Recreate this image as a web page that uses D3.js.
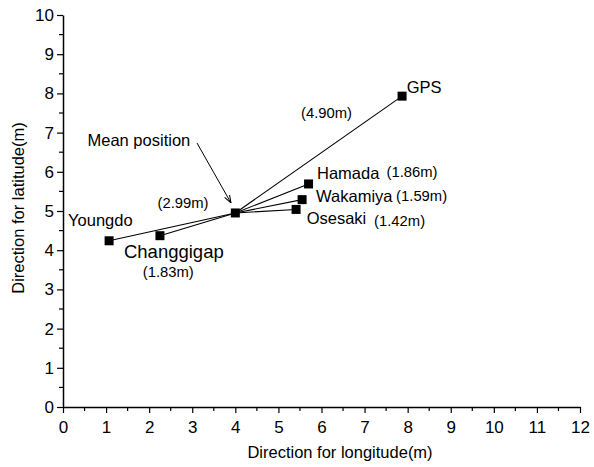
<!DOCTYPE html>
<html><head><meta charset="utf-8">
<script src="https://d3js.org/d3.v7.min.js"></script>
<style>body{margin:0;background:#fff}text{font-family:"Liberation Sans",Arial,sans-serif;fill:#000}</style>
</head><body><svg id="c" width="594" height="467"></svg>
<script>
const stations = ["Youngdo","Changgigap","Hamada","Wakamiya","Osesaki","GPS"];
const lonValues = [1.07, 2.25, 5.70, 5.55, 5.41, 7.87];
const latValues = [4.24, 4.37, 5.69, 5.29, 5.04, 7.93];
const distLabels = ["(2.99m)","(1.83m)","(1.86m)","(1.59m)","(1.42m)","(4.90m)"];
const meanPos = [4.0, 4.95];
const xTicks = [0,1,2,3,4,5,6,7,8,9,10,11,12];
const yTicks = [0,1,2,3,4,5,6,7,8,9,10];

const svg = d3.select("#c");
const x = d3.scaleLinear().domain([0,12]).range([63,580]);
const y = d3.scaleLinear().domain([0,10]).range([407,15]);

// axes
const xa = svg.append("g").attr("transform","translate(0,407)")
  .call(d3.axisBottom(x).tickValues(xTicks).tickSize(6).tickSizeOuter(0).tickPadding(8));
const ya = svg.append("g").attr("transform","translate(63,0)")
  .call(d3.axisLeft(y).tickValues(yTicks).tickSize(6).tickSizeOuter(0).tickPadding(3));
[xa,ya].forEach(a=>{a.selectAll("text").style("font-size","17px").style("font-family","Liberation Sans, Arial");a.select(".domain").attr("stroke-width",1.5);a.selectAll("line").attr("stroke-width",1.2);});
// minor ticks
svg.append("g").selectAll("line").data(d3.range(0.5,12,1)).join("line")
  .attr("x1",d=>x(d)).attr("x2",d=>x(d)).attr("y1",407).attr("y2",411).attr("stroke","#000").attr("stroke-width",1.2);
svg.append("g").selectAll("line").data(d3.range(0.5,10,1)).join("line")
  .attr("y1",d=>y(d)).attr("y2",d=>y(d)).attr("x1",63).attr("x2",59).attr("stroke","#000").attr("stroke-width",1.2);

svg.append("text").attr("x",340).attr("y",458).attr("text-anchor","middle").style("font-size","16.5px").text("Direction for longitude(m)");
svg.append("text").attr("transform","translate(24,208) rotate(-90)").attr("text-anchor","middle").style("font-size","16.5px").text("Direction for latitude(m)");

// lines to mean
const pts = stations.map((s,i)=>({s, lon:lonValues[i], lat:latValues[i], d:distLabels[i]}));
svg.append("g").selectAll("line").data(pts).join("line")
  .attr("x1",d=>x(d.lon)).attr("y1",d=>y(d.lat)).attr("x2",x(meanPos[0])).attr("y2",y(meanPos[1]))
  .attr("stroke","#000").attr("stroke-width",1.1);
// markers
const all = pts.concat([{lon:meanPos[0],lat:meanPos[1]}]);
svg.append("g").selectAll("rect").data(all).join("rect")
  .attr("x",d=>x(d.lon)-4.5).attr("y",d=>y(d.lat)-4.5).attr("width",9).attr("height",9).attr("fill","#000");

// labels: offsets (dx, baseline dy, font size) relative to each marker
const nameOff = {Youngdo:[-41,-15,16.5], Changgigap:[-36,22,18.5], Hamada:[8.4,-4.7,16.5], Wakamiya:[14,2,16.5], Osesaki:[10.6,14.6,16.5], GPS:[4.6,-3.4,16.5]};
const distOff = {Youngdo:[48.4,-32.8], Changgigap:[-17.2,41.3], Hamada:[78,-7.3], Wakamiya:[94,1], Osesaki:[78,16.6], GPS:[-101,22.2]};
pts.forEach(p=>{
  const px=x(p.lon), py=y(p.lat), n=nameOff[p.s], dd=distOff[p.s];
  svg.append("text").attr("x",px+n[0]).attr("y",py+n[1]).style("font-size",n[2]+"px").text(p.s);
  svg.append("text").attr("x",px+dd[0]).attr("y",py+dd[1]).style("font-size","14.8px").text(p.d);
});
svg.append("text").attr("x",87.5).attr("y",145.5).style("font-size","16.5px").text("Mean position");
svg.append("defs").append("marker").attr("id","ah").attr("viewBox","0 0 10 10").attr("refX",10).attr("refY",5)
  .attr("markerWidth",8).attr("markerHeight",8).attr("markerUnits","userSpaceOnUse").attr("orient","auto")
  .append("path").attr("d","M0,1.5 L10,5 L0,8.5").attr("fill","none").attr("stroke","#000").attr("stroke-width",1.3);
svg.append("line").attr("x1",197).attr("y1",143).attr("x2",231).attr("y2",203).attr("stroke","#000").attr("stroke-width",1).attr("marker-end","url(#ah)");
</script></body></html>
